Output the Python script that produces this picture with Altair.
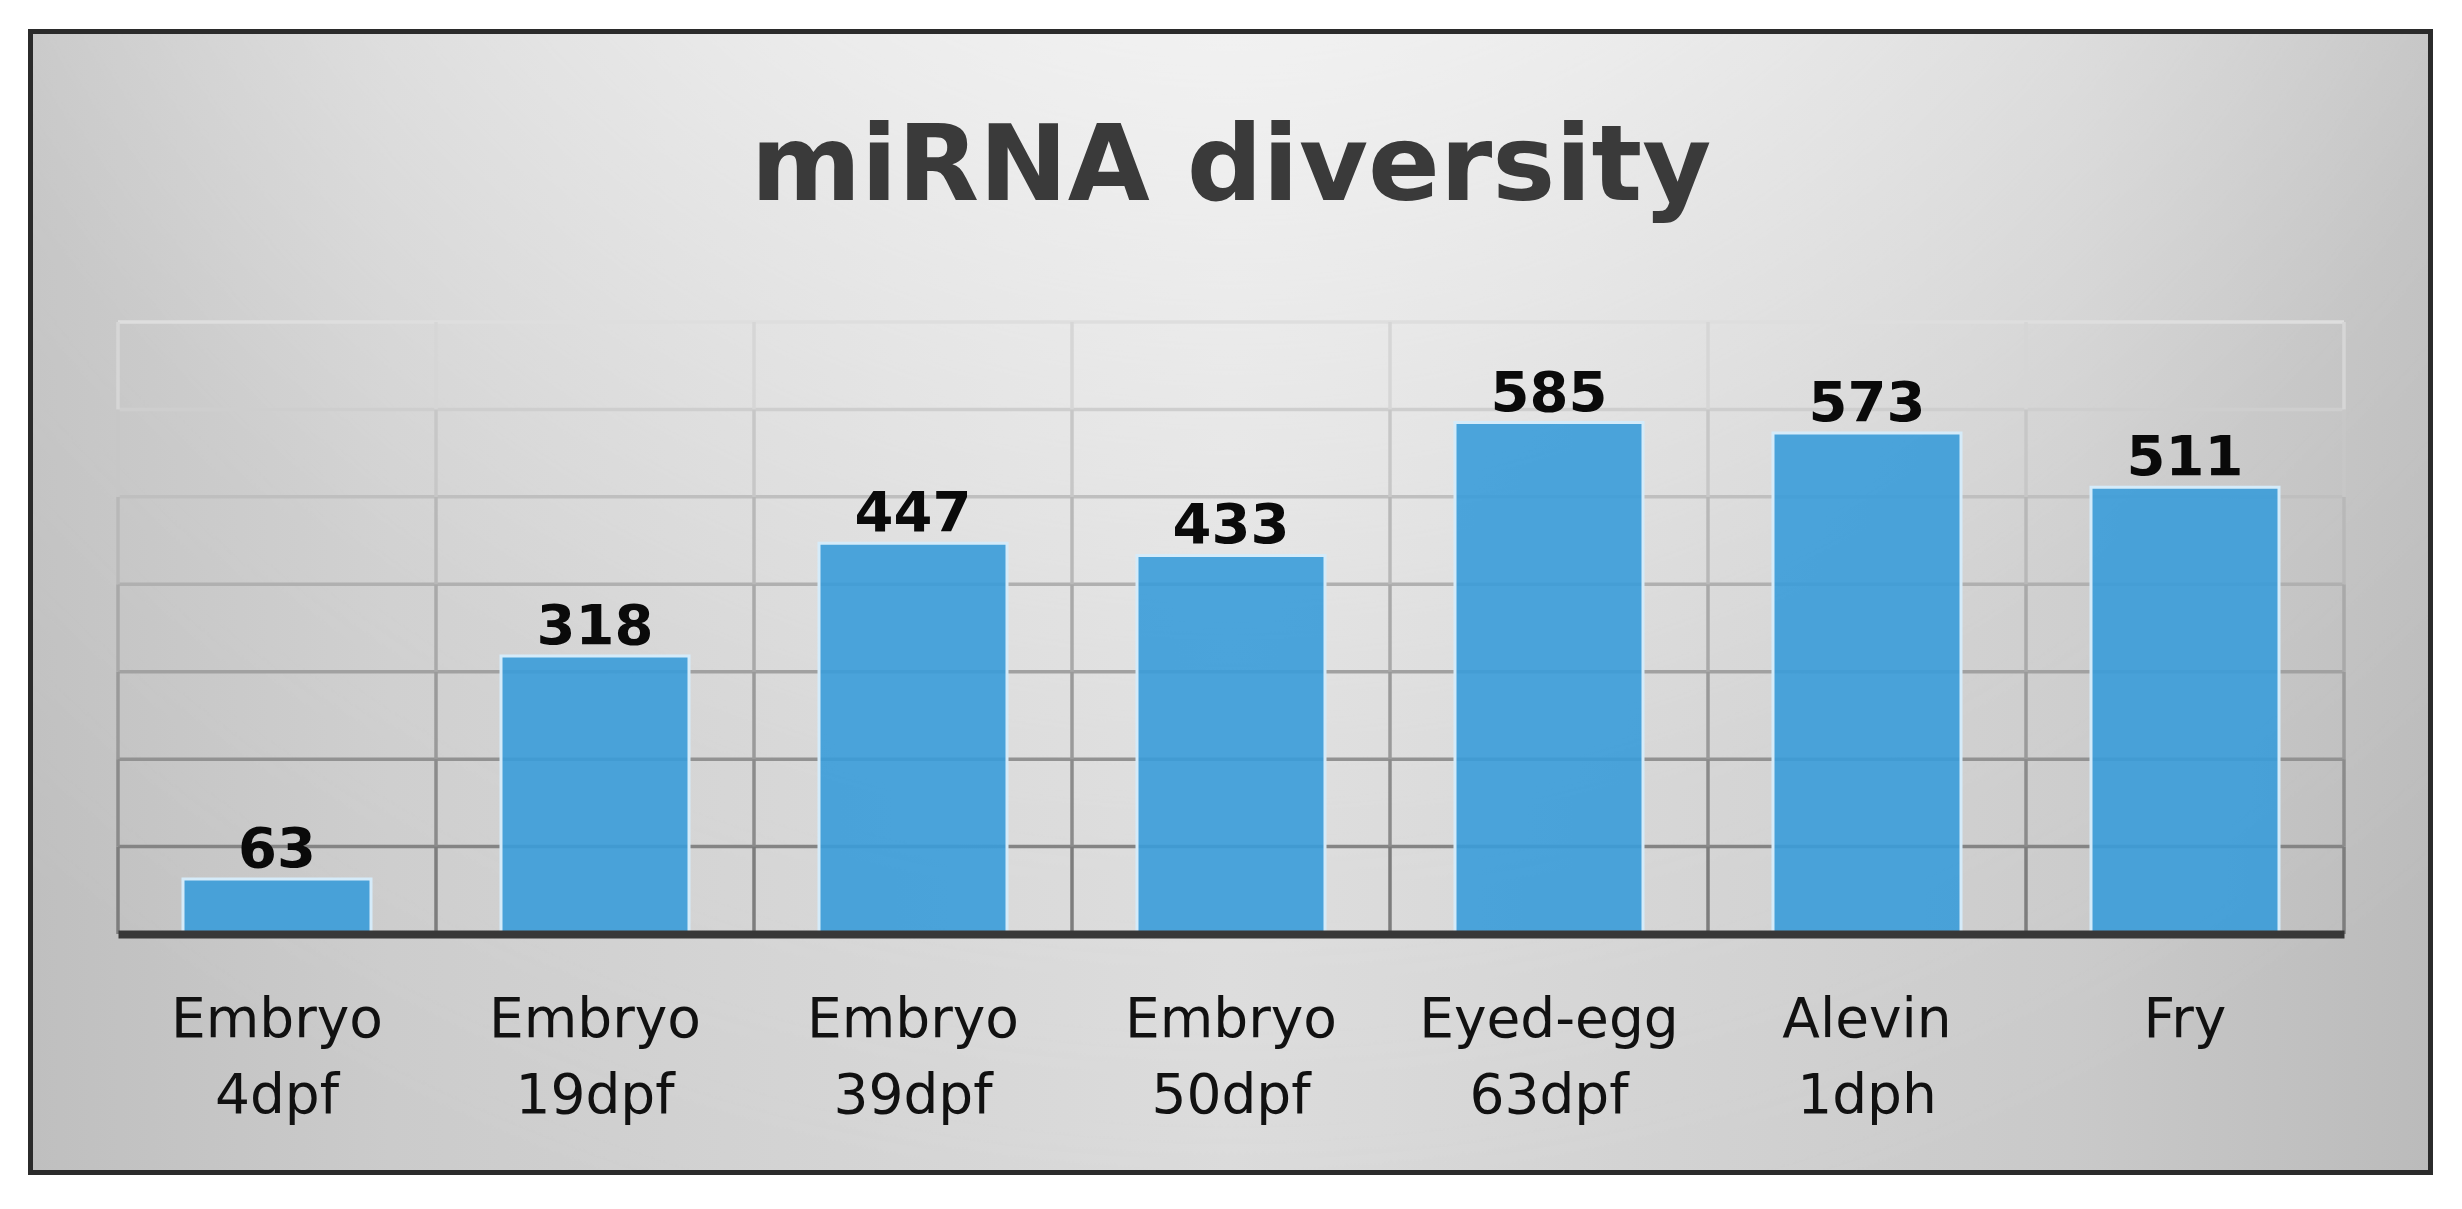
import altair as alt
import pandas as pd

# ---- data ----
stages = ["Embryo", "Embryo", "Embryo", "Embryo", "Eyed-egg", "Alevin", "Fry"]
ages = ["4dpf", "19dpf", "39dpf", "50dpf", "63dpf", "1dph", ""]
counts = [63, 318, 447, 433, 585, 573, 511]
y_ticks = [0, 100, 200, 300, 400, 500, 600, 700]
title_text = "miRNA diversity"

labels = [s + "\n" + a if a else s for s, a in zip(stages, ages)]
bars_df = pd.DataFrame({"stage": labels, "count": counts})

# gridline tables built from the tick values / categories
hgrid_df = pd.DataFrame({"v": y_ticks[1:]})
seg_rows = []
for lab in labels:
    for lo, hi in zip(y_ticks[:-1], y_ticks[1:]):
        seg_rows.append({"stage": lab, "lo": lo, "hi": hi, "v": (lo + hi) / 2})
vseg_df = pd.DataFrame(seg_rows)
vseg_last_df = vseg_df[vseg_df["stage"] == labels[-1]]

W, H = 2226, 612

xscale = alt.Scale(domain=labels, paddingInner=0, paddingOuter=0)
yscale = alt.Scale(domain=[y_ticks[0], y_ticks[-1]], nice=False, zero=True)
gscale = alt.Scale(domain=[0, 700], range=["#767676", "#dedede"])

xaxis = alt.Axis(
    title=None, labelAngle=0, labelExpr="split(datum.label, '\\n')",
    labelFont="DejaVu Sans", labelFontSize=55, labelColor="#111111",
    labelBaseline="alphabetic", labelPadding=102, labelLineHeight=76,
    labelLimit=0, ticks=False, tickSize=0, grid=False,
    domainColor="#383838", domainWidth=8, zindex=1,
)

one = pd.DataFrame({"k": [0]})
fx = dict(x=alt.value(-87.5), x2=alt.value(W + 86.5), y=alt.value(-290.5), y2=alt.value(H + 238.5))

frame_base = alt.Chart(one).mark_rect(
    fill=alt.LinearGradient(
        gradient="linear", x1=0, y1=0, x2=1, y2=0,
        stops=[
            alt.GradientStop(color="#bfbfbf", offset=0),
            alt.GradientStop(color="#cbcbcb", offset=0.15),
            alt.GradientStop(color="#dadada", offset=0.5),
            alt.GradientStop(color="#c9c9c9", offset=0.85),
            alt.GradientStop(color="#bbbbbb", offset=1),
        ],
    )
).encode(**fx)

frame_glow = alt.Chart(one).mark_rect(
    fill=alt.RadialGradient(
        gradient="radial", x1=0.5, y1=0.0, x2=0.5, y2=0.0, r1=0, r2=0.8,
        stops=[
            alt.GradientStop(color="rgba(255,255,255,0.95)", offset=0),
            alt.GradientStop(color="rgba(255,255,255,0.55)", offset=0.4),
            alt.GradientStop(color="rgba(255,255,255,0.12)", offset=0.75),
            alt.GradientStop(color="rgba(255,255,255,0)", offset=1),
        ],
    )
).encode(**fx)

frame_stroke = alt.Chart(one).mark_rect(
    fill="transparent", stroke="#2b2b2b", strokeWidth=5
).encode(**fx)

title_df = pd.DataFrame({"t": [title_text]})
title = alt.Chart(title_df).mark_text(
    align="center", baseline="alphabetic",
    font="DejaVu Sans", fontWeight="bold", fontSize=106, color="#3a3a3a",
).encode(x=alt.value(W / 2), y=alt.value(-122), text="t:N")

hgrid = alt.Chart(hgrid_df).mark_rule(strokeWidth=3.5).encode(
    y=alt.Y("v:Q", scale=yscale, axis=None),
    color=alt.Color("v:Q", scale=gscale, legend=None),
)

vgrid = alt.Chart(vseg_df).mark_rule(strokeWidth=3.5).encode(
    x=alt.X("stage:N", scale=xscale, sort=labels, bandPosition=0, axis=xaxis),
    y=alt.Y("lo:Q", scale=yscale, axis=None),
    y2="hi:Q",
    color=alt.Color("v:Q", scale=gscale, legend=None),
)

vgrid_end = alt.Chart(vseg_last_df).mark_rule(strokeWidth=3.5).encode(
    x=alt.X("stage:N", scale=xscale, sort=labels, bandPosition=1, axis=xaxis),
    y=alt.Y("lo:Q", scale=yscale, axis=None),
    y2="hi:Q",
    color=alt.Color("v:Q", scale=gscale, legend=None),
)

bars = alt.Chart(bars_df).mark_bar(
    size=188, fill="#3a9cd9", fillOpacity=0.9, stroke="#d5ebf9", strokeWidth=3
).encode(
    x=alt.X("stage:N", scale=xscale, sort=labels, axis=xaxis),
    y=alt.Y("count:Q", scale=yscale, axis=None),
)

values = alt.Chart(bars_df).mark_text(
    dy=-12, baseline="alphabetic", align="center",
    font="DejaVu Sans", fontWeight="bold", fontSize=56, color="#0a0a0a",
).encode(
    x=alt.X("stage:N", scale=xscale, sort=labels, axis=xaxis),
    y=alt.Y("count:Q", scale=yscale, axis=None),
    text=alt.Text("count:Q"),
)

chart = alt.layer(
    frame_base, frame_glow, title, hgrid, vgrid, vgrid_end, bars, values, frame_stroke
).properties(
    width=W, height=H,
    autosize="none",
    padding={"left": 110, "top": 314, "right": 110, "bottom": 267},
).configure(background="white").configure_view(stroke=None)

chart.save("out.html", embed_options={"renderer": "svg", "actions": False})
